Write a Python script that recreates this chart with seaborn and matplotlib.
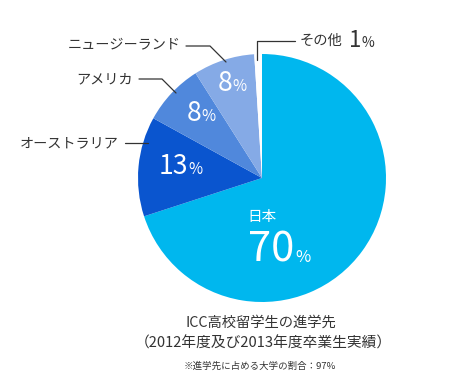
import matplotlib
matplotlib.use("Agg")
import matplotlib.pyplot as plt
import seaborn as sns

sns.set_theme(style="white")
plt.rcParams['font.family'] = ['Noto Sans CJK JP', 'DejaVu Sans']

categories = ["日本", "オーストラリア", "アメリカ", "ニュージーランド", "その他"]
values = [70, 13, 8, 8, 1]
colors = ["#00B7EE", "#0A55CF", "#5088DC", "#85AAE6", "#FFFFFF"]
title_lines = ["ICC高校留学生の進学先", "（2012年度及び2013年度卒業生実績）"]
footnote = "※進学先に占める大学の割合：97%"

W, H = 465, 390
fig = plt.figure(figsize=(W / 100, H / 100), dpi=100)
ax = fig.add_axes([0, 0, 1, 1])

def Y(y):
    return H - y

cx, cy, r = 262, 178, 124
ax.pie(values, colors=colors, startangle=90, counterclock=False,
       center=(cx, Y(cy)), radius=r, wedgeprops=dict(linewidth=0),
       frame=True)
ax.set_xlim(0, W)
ax.set_ylim(0, H)
ax.set_aspect("equal")
ax.axis("off")

dark = "#333333"
white = "white"

def pct(xnum_right, baseline, num, size_num, size_pct, color, gap=0.5):
    ax.text(xnum_right, Y(baseline), num, fontsize=size_num, color=color,
            ha="right", va="baseline")
    ax.text(xnum_right + gap, Y(baseline), "%", fontsize=size_pct, color=color,
            ha="left", va="baseline")

# slice percentages
pct(232, 91, str(values[3]), 19, 11, white)
pct(201, 121, str(values[2]), 19, 11, white)
pct(188, 174, str(values[1]), 19, 11, white)
ax.text(262, Y(221), categories[0], fontsize=10.5, color=white, ha="center", va="baseline")
pct(294, 262, str(values[0]), 30, 12, white, gap=1.5)

# outer labels
ax.text(342, Y(45), categories[4], fontsize=10.3, color=dark, ha="right", va="baseline")
pct(361, 47, str(values[4]), 16, 10, dark)
ax.text(181, Y(44), categories[3], fontsize=10.2, color=dark, ha="right", va="center")
ax.text(133, Y(79), categories[2], fontsize=10.2, color=dark, ha="right", va="center")
ax.text(119, Y(143), categories[1], fontsize=10.2, color=dark, ha="right", va="center")

lw = 0.9
ax.plot([257, 257, 295], [Y(60), Y(41), Y(41)], color=dark, lw=lw)
ax.plot([186, 210, 226], [Y(46), Y(46), Y(62)], color=dark, lw=lw)
ax.plot([139, 162, 176], [Y(79), Y(79), Y(93)], color=dark, lw=lw)
ax.plot([125, 148], [Y(143), Y(143)], color=dark, lw=lw)

# titles
ax.text(261, Y(323), title_lines[0], fontsize=10.3, color=dark, ha="center", va="center")
ax.text(263, Y(343), title_lines[1], fontsize=10.6, color=dark, ha="center", va="center")
ax.text(260, Y(366), footnote, fontsize=6.8, color=dark, ha="center", va="center")

fig.savefig("out.png", dpi=100, facecolor="white")
